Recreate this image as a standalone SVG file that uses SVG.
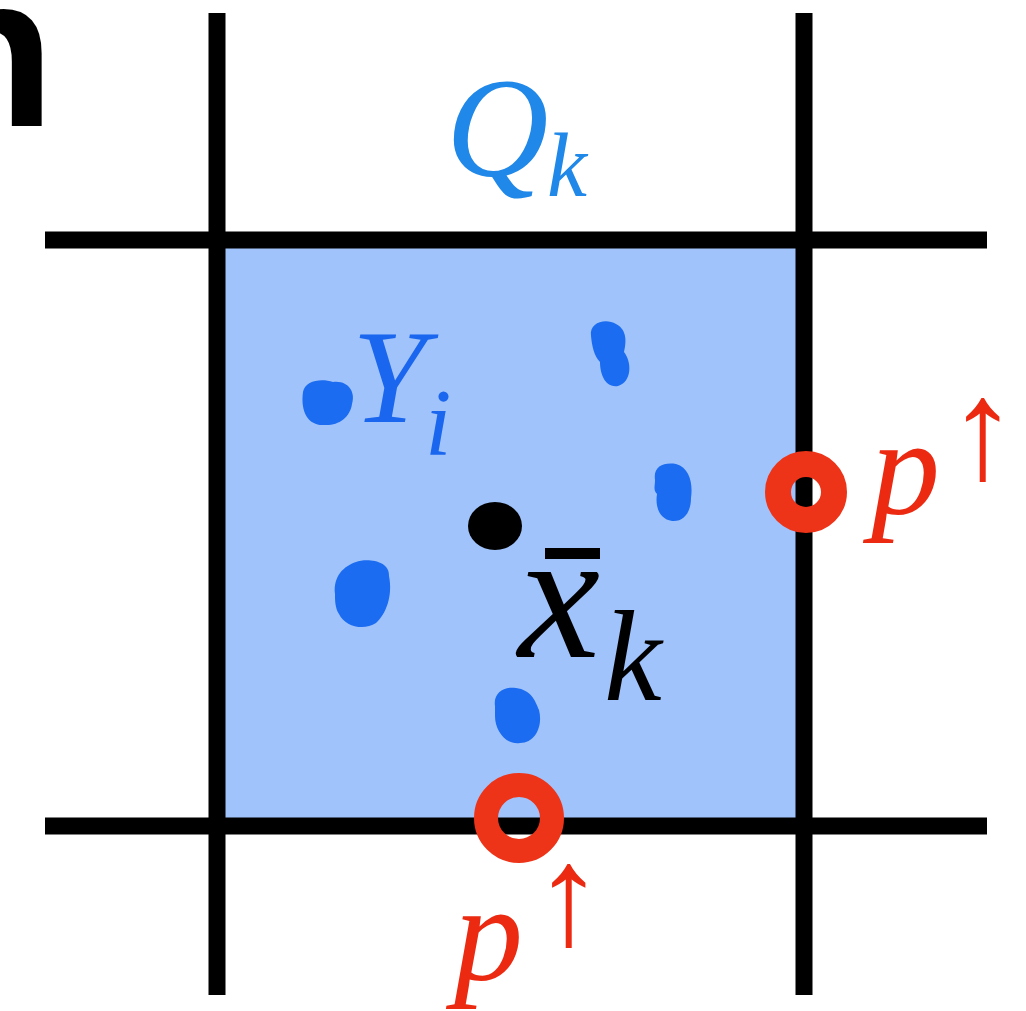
<svg xmlns="http://www.w3.org/2000/svg" width="1026" height="1011" viewBox="0 0 1026 1011">
<style>
.grid{stroke:#000;stroke-width:17;fill:none}
.blob{fill:#1b6cf0}
.ring{fill:none;stroke:#ee3418}
.it{font-family:"Liberation Serif","Times New Roman",serif;font-style:italic}
.red{fill:#ec2a12}
.arr{font-family:"Liberation Serif","Times New Roman",serif;font-size:142px}
</style>
<rect width="1026" height="1011" fill="#fff"/>
<g id="label-n"><text x="-78" y="126" font-family="Liberation Sans, Arial, sans-serif" font-weight="bold" font-size="218" fill="#000">n</text></g>
<g id="cell"><rect x="217" y="240" width="587" height="586" fill="#a0c3fb"/></g>
<g id="grid">
<line class="grid" x1="217" y1="13" x2="217" y2="995"/>
<line class="grid" x1="804" y1="13" x2="804" y2="995"/>
<line class="grid" x1="45" y1="240" x2="987" y2="240"/>
<line class="grid" x1="45" y1="826" x2="987" y2="826"/>
</g>
<g id="points">
<path class="blob" d="M303,392 C305,380 322,378 333,382 C348,380 356,392 352,404 C350,418 338,426 324,425 C310,426 300,414 303,392 Z"/>
<path class="blob" d="M591,336 C589,322 606,318 616,324 C628,330 626,344 624,352 C632,362 632,382 618,386 C604,388 600,372 600,362 C594,356 592,346 591,336 Z"/>
<path class="blob" d="M655,480 C653,466 664,462 676,464 C690,468 693,484 691,498 C691,512 684,522 672,521 C659,519 655,506 657,494 C653,490 655,486 655,480 Z"/>
<path class="blob" d="M335,594 C333,576 344,566 356,562 C366,558 390,560 389,576 C393,596 386,614 376,623 C364,631 345,627 339,614 C335,608 335,600 335,594 Z"/>
<path class="blob" d="M495,706 C493,693 504,686 516,688 C531,690 535,700 539,710 C543,725 536,743 520,743 C505,745 495,730 495,716 Z"/>
</g>
<g id="centroid"><ellipse cx="495" cy="526" rx="27" ry="24" fill="#000"/></g>
<g id="rings">
<circle class="ring" cx="806" cy="492" r="28" stroke-width="26"/>
<circle class="ring" cx="519" cy="818" r="33" stroke-width="24"/>
</g>
<g id="labels">
<text class="it" x="446" y="176" font-size="142" fill="#1f88e8">Q</text>
<text class="it" x="547" y="196" font-size="90" fill="#1f88e8">k</text>
<text class="it" x="352" y="422" font-size="134" fill="#1a66ee">Y</text>
<text class="it" x="425" y="455" font-size="95" fill="#1a66ee">i</text>
<text class="it" x="518" y="657" font-size="185" fill="#000">x</text>
<rect x="545" y="548" width="55" height="11" fill="#000"/>
<text class="it" x="604" y="700" font-size="130" fill="#000">k</text>
<text class="it red" x="871" y="514" font-size="138">p</text>
<text class="red arr" x="947" y="478">↑</text>
<text class="it red" x="454" y="980" font-size="138">p</text>
<text class="red arr" x="533" y="944">↑</text>
</g>
</svg>
